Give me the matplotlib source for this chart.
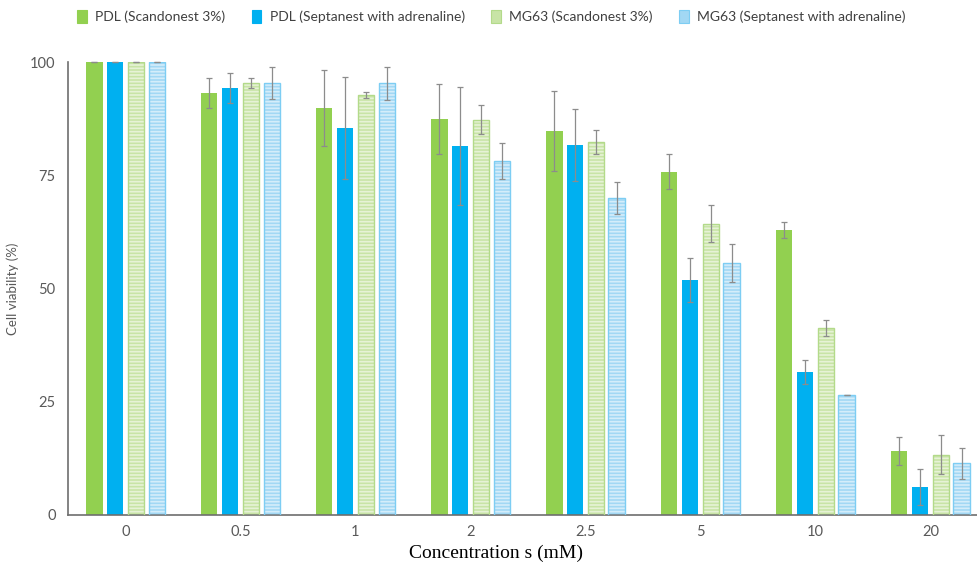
import numpy as np
import matplotlib
matplotlib.use("Agg")
from matplotlib import pyplot as plt
from matplotlib.patches import Patch

plt.rcParams['font.family'] = ['Lato', 'DejaVu Sans']
plt.rcParams['hatch.linewidth'] = 1.2

concentrations = ["0", "0.5", "1", "2", "2.5", "5", "10", "20"]
series_names = ["PDL (Scandonest 3%)", "PDL (Septanest with adrenaline)",
                "MG63 (Scandonest 3%)", "MG63 (Septanest with adrenaline)"]

pdl_scandonest = [100, 93.2, 89.9, 87.4, 84.8, 75.8, 62.9, 14.1]
pdl_septanest = [100, 94.3, 85.4, 81.5, 81.7, 51.9, 31.6, 6.1]
mg63_scandonest = [100, 95.3, 92.7, 87.2, 82.3, 64.3, 41.3, 13.3]
mg63_septanest = [100, 95.3, 95.3, 78.1, 69.9, 55.6, 26.5, 11.4]

pdl_scandonest_err = [0, 3.3, 8.4, 7.8, 8.9, 3.9, 1.8, 3.1]
pdl_septanest_err = [0, 3.3, 11.3, 13.0, 8.0, 4.8, 2.6, 4.0]
mg63_scandonest_err = [0, 1.1, 0.7, 3.2, 2.7, 4.1, 1.8, 4.3]
mg63_septanest_err = [0, 3.5, 3.7, 4.0, 3.5, 4.2, 0.1, 3.4]

values = [pdl_scandonest, pdl_septanest, mg63_scandonest, mg63_septanest]
errors = [pdl_scandonest_err, pdl_septanest_err, mg63_scandonest_err, mg63_septanest_err]
fill_colors = ["#92D050", "#00B0F0", "#C8E4A6", "#A2D8F4"]
edge_colors = ["#92D050", "#00B0F0", "#B3DA8A", "#7DCDF3"]
hatched = [False, False, True, True]

fig = plt.figure(figsize=(9.77, 5.68), dpi=100)
ax = fig.add_axes([68 / 977, 53 / 568, 920 / 977, 453 / 568])

x = np.arange(len(concentrations))
step = 0.18
width = 0.14
for i in range(4):
    pos = x + (i - 1.5) * step
    if hatched[i]:
        ax.bar(pos, values[i], width, color=fill_colors[i], edgecolor=(1, 1, 1, 0.55),
               linewidth=0, hatch="-----", zorder=2)
        ax.bar(pos, values[i], width, fill=False, edgecolor=edge_colors[i],
               linewidth=1.0, zorder=3)
    else:
        ax.bar(pos, values[i], width, color=fill_colors[i], linewidth=0, zorder=2)
    ax.errorbar(pos, values[i], yerr=errors[i], fmt="none", ecolor="#8C8C8C",
                elinewidth=0.9, capsize=2, capthick=0.9, zorder=4, clip_on=False)

ax.set_xlim(-0.5, len(concentrations) - 0.5)
ax.set_ylim(0, 100)
ax.set_yticks([0, 25, 50, 75, 100])
ax.set_xticks(x)
ax.set_xticklabels(concentrations)
ax.tick_params(axis="both", length=0, labelsize=10.5, colors="#595959")
ax.tick_params(axis="x", pad=7)
ax.tick_params(axis="y", pad=9)
for s in ["top", "right"]:
    ax.spines[s].set_visible(False)
for s in ["left", "bottom"]:
    ax.spines[s].set_color("#6E6E6E")
    ax.spines[s].set_linewidth(1.2)

ax.set_ylabel("Cell viability (%)", fontsize=9.5, color="#595959", labelpad=8)
ax.set_xlabel("Concentration s (mM)", fontsize=14, family=["Liberation Serif"])
ax.xaxis.set_label_coords(0.465, -0.065)

handles = []
for i in range(4):
    if hatched[i]:
        handles.append(Patch(facecolor=fill_colors[i], edgecolor=edge_colors[i], linewidth=0.8))
    else:
        handles.append(Patch(facecolor=fill_colors[i], edgecolor=fill_colors[i], linewidth=0.8))
fig.legend(handles, series_names, loc="upper center", bbox_to_anchor=(0.503, 1.005), ncol=4,
           frameon=False, fontsize=10, handlelength=0.7, handleheight=1.1,
           handletextpad=0.6, columnspacing=1.9, labelcolor="#404040")

fig.savefig("out.png", dpi=100)
